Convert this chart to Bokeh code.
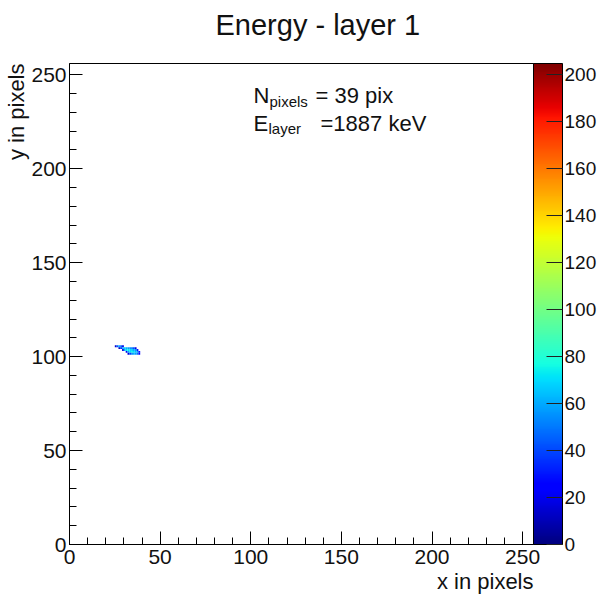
import numpy as np
from bokeh.plotting import figure
from bokeh.models import (ColumnDataSource, LinearColorMapper, ColorBar, Range1d,
                          SingleIntervalTicker, FixedTicker, Label, Title)
from bokeh.transform import transform
from bokeh.embed import file_html
from bokeh.resources import INLINE

# ---------------- data ----------------
title_text = "Energy - layer 1"
x_title = "x in pixels"
y_title = "y in pixels"
n_pixels = 39
e_layer = 1887  # keV

# hit pixels (column index, row index, energy in keV)
pix_x = [25, 26, 27, 28, 29,
         27, 28, 29, 30, 31, 32, 33, 34, 35, 36,
         29, 30, 31, 32, 33, 34, 35, 36, 37,
         31, 32, 33, 34, 35, 36, 37, 38,
         32, 33, 34, 35, 36, 37, 38]
pix_y = [105, 105, 105, 105, 105,
         104, 104, 104, 104, 104, 104, 104, 104, 104, 104,
         103, 103, 103, 103, 103, 103, 103, 103, 103,
         102, 102, 102, 102, 102, 102, 102, 102,
         101, 101, 101, 101, 101, 101, 101]
pix_e = [15, 42, 60, 44, 18,
         12, 35, 60, 66, 62, 58, 55, 50, 42, 18,
         18, 60, 72, 74, 70, 66, 62, 58, 30,
         20, 60, 70, 74, 70, 64, 58, 28,
         15, 38, 52, 60, 58, 48, 25]

z_max = 204.7
cbar_ticks = [0, 20, 40, 60, 80, 100, 120, 140, 160, 180, 200]
axis_major = 50

# ---------------- palette (jet-like rainbow) ----------------
def jet(n=256):
    t = np.linspace(0, 1, n)
    r = np.interp(t, [0, 0.35, 0.66, 0.89, 1.0], [0, 0, 1, 1, 0.5])
    g = np.interp(t, [0, 0.125, 0.375, 0.64, 0.91, 1.0], [0, 0, 1, 1, 0, 0])
    b = np.interp(t, [0, 0.11, 0.34, 0.65, 1.0], [0.5, 1, 1, 0, 0])
    return ["#%02x%02x%02x" % (int(round(a * 255)), int(round(c * 255)), int(round(d * 255)))
            for a, c, d in zip(r, g, b)]

palette = jet()
mapper = LinearColorMapper(palette=palette, low=0, high=z_max)

# ---------------- geometry helpers (screen px -> data) ----------------
FL, FR, FT, FB = 69, 533, 63, 544
W, H = 600, 597
def dx(px):
    return (px - FL) * 256.0 / (FR - FL)
def dy(py):
    return (FB - py) * 256.0 / (FB - FT)

FONT = "Liberation Sans"
TXT = "#111111"

p = figure(width=W, height=H, x_range=Range1d(0, 256), y_range=Range1d(0, 256),
           output_backend="svg", toolbar_location=None,
           min_border_left=FL, min_border_right=W - FR,
           min_border_top=FT, min_border_bottom=H - FB)
p.title.text = title_text
p.title.align = "left"
p.title.offset = 146
p.title.text_font = FONT
p.title.text_font_size = "29px"
p.title.text_font_style = "normal"
p.title.text_color = TXT
p.title.standoff = 0

# blank spacer between the title and the frame (keeps the title high)
p.add_layout(Title(text="\u00a0", text_font=FONT, text_font_size="12px", standoff=7), "above")

p.grid.visible = False
p.outline_line_color = "black"
p.outline_line_width = 1
p.background_fill_color = "white"
p.border_fill_color = "white"

src = ColumnDataSource(dict(x=[v + 0.5 for v in pix_x], y=[v + 0.5 for v in pix_y], e=pix_e))
p.rect(x="x", y="y", width=1, height=1, source=src,
       fill_color=transform("e", mapper), line_color=None)

for ax in (p.xaxis[0], p.yaxis[0]):
    ax.ticker = SingleIntervalTicker(interval=axis_major, num_minor_ticks=5)
    ax.major_tick_in = 13
    ax.major_tick_out = 0
    ax.minor_tick_in = 7
    ax.minor_tick_out = 0
    ax.axis_line_color = "black"
    ax.major_tick_line_color = "black"
    ax.minor_tick_line_color = "black"
    ax.major_label_text_font = FONT
    ax.major_label_text_font_size = "21px"
    ax.major_label_text_color = TXT
p.xaxis.major_label_standoff = 5
p.yaxis.major_label_standoff = 3

p.add_layout(Title(text=x_title, align="right", text_font=FONT, text_font_size="22px",
                   text_font_style="normal", text_color=TXT, standoff=0), "below")
p.add_layout(Title(text=y_title, align="right", text_font=FONT, text_font_size="22px",
                   text_font_style="normal", text_color=TXT, standoff=0), "left")

cb = ColorBar(color_mapper=mapper, ticker=FixedTicker(ticks=cbar_ticks),
              width=29, padding=0, margin=0,
              bar_line_color="black", bar_line_width=1,
              major_tick_in=16, major_tick_out=0, minor_tick_in=0, minor_tick_out=0,
              major_tick_line_color="#222222",
              label_standoff=2, major_label_text_font=FONT,
              major_label_text_font_size="19px", major_label_text_color=TXT,
              border_line_color=None, background_fill_color=None)
p.add_layout(cb, "right")

def lab(text, px, py, size, align="left"):
    p.add_layout(Label(x=dx(px), y=dy(py), text=text, text_font=FONT,
                       text_font_size=size, text_align=align, text_baseline="alphabetic",
                       text_color=TXT))

lab("N", 253, 95, "22px")
lab("pixels", 269, 101, "15px")
lab("= %d pix" % n_pixels, 315, 95, "22px")
lab("E", 253, 123, "22px")
lab("layer", 268, 128, "15px")
lab("=%d keV" % e_layer, 320, 123, "22px")

open("out.html", "w").write(file_html(p, INLINE))
